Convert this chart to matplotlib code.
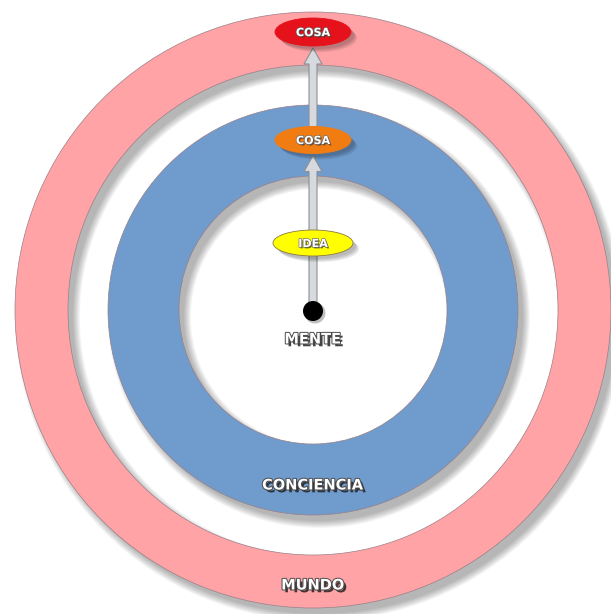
import matplotlib.pyplot as plt
from matplotlib.patches import Circle, Wedge, Ellipse, FancyArrow
import matplotlib.patheffects as pe

# ring layers: name, outer radius, inner radius, colour (pixel units)
ring_names = ["MUNDO", "CONCIENCIA"]
ring_outer = [298, 205]
ring_inner = [245, 134]
ring_colors = ["#FFA3A7", "#6F9BCD"]
ring_label_y = [585, 485]

# nodes along the arrow
node_names = ["COSA", "COSA", "IDEA"]
node_y = [32, 140, 243]
node_w = [76, 76, 80]
node_h = [28, 27, 26]
node_colors = ["#E5121B", "#F07C12", "#FFFF00"]

cx, cy = 313, 310

fig = plt.figure(figsize=(6.11, 6.14), dpi=100)
ax = fig.add_axes([0, 0, 1, 1])
ax.set_xlim(0, 611)
ax.set_ylim(614, 0)
ax.set_aspect("equal")
ax.axis("off")

# soft drop shadows for rings
for name, ro, ri in zip(ring_names, ring_outer, ring_inner):
    for k in range(10):
        grow = 6 - k * 0.8
        ax.add_patch(Wedge((cx + 6, cy + 7), ro + grow, 0, 360, width=ro - ri + 2 * grow,
                           facecolor="#000000", alpha=0.03, lw=0))

for ro, ri, col in zip(ring_outer, ring_inner, ring_colors):
    ax.add_patch(Wedge((cx, cy), ro, 0, 360, width=ro - ri, facecolor=col,
                       edgecolor="#9a7f86", lw=0.5))

txt_fx = [pe.withSimplePatchShadow(offset=(2, -2), shadow_rgbFace="#222222", alpha=0.85),
          pe.withStroke(linewidth=1.4, foreground="#4a4a4a")]
for name, ly in zip(ring_names, ring_label_y):
    ax.text(cx, ly, name, color="white", fontsize=10.5, fontweight="bold",
            family="DejaVu Sans", ha="center", va="center", path_effects=txt_fx)

# arrows
arrow_kw = dict(width=8, head_width=18, head_length=16, length_includes_head=True,
                facecolor="#D6D9DD", edgecolor="#8C9096", lw=0.8, zorder=3)
ax.add_patch(FancyArrow(cx, cy, 0, node_y[1] + node_h[1] / 2 - cy + 2, **arrow_kw))
ax.add_patch(FancyArrow(cx, node_y[1] - node_h[1] / 2, 0,
                        node_y[0] + node_h[0] / 2 - node_y[1] + node_h[1] / 2 + 2, **arrow_kw))

# center dot
ax.add_patch(Circle((cx + 2, cy + 3), 10.5, facecolor="#000000", alpha=0.25, lw=0, zorder=4))
ax.add_patch(Circle((cx, cy + 1), 10, facecolor="#000000", lw=0, zorder=5))
ax.text(cx, cy + 29, "MENTE", color="white", fontsize=10.5, fontweight="bold",
        ha="center", va="center", path_effects=txt_fx, zorder=6)

for name, y, w, h, col in zip(node_names, node_y, node_w, node_h, node_colors):
    for k in range(5):
        ax.add_patch(Ellipse((cx + 3 + k * 0.8, y + 3 + k * 0.8), w, h, facecolor="#000000",
                             alpha=0.06, lw=0, zorder=6))
    ax.add_patch(Ellipse((cx, y), w, h, facecolor=col,
                         edgecolor="#8a7a40" if col == "#FFFF00" else col,
                         lw=0.6, zorder=7))
    ax.text(cx, y + 1, name, color="white", fontsize=8, fontweight="bold",
            ha="center", va="center", zorder=8,
            path_effects=[pe.withSimplePatchShadow(offset=(1, -1), shadow_rgbFace="#333333", alpha=0.7),
                          pe.withStroke(linewidth=0.9, foreground="#666666")])

fig.savefig("out.png", dpi=100, facecolor="white")
